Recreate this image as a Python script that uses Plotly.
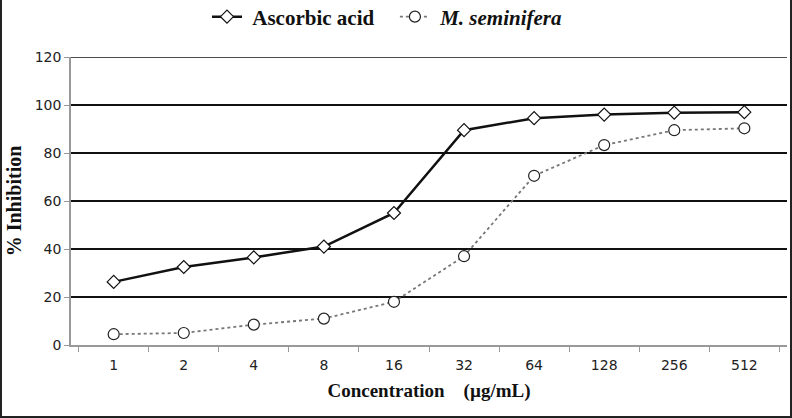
import plotly.graph_objects as go

concentrations = ["1", "2", "4", "8", "16", "32", "64", "128", "256", "512"]
ascorbic_acid = [26.3, 32.5, 36.5, 41, 55, 89.5, 94.5, 96, 96.8, 97]
m_seminifera = [4.5, 5, 8.5, 11, 18, 37, 70.5, 83.3, 89.5, 90.3]

W, H = 792, 418
L, R, T, B = 71, 5, 57, 73
pw, ph = W - L - R, H - T - B

fig = go.Figure()
fig.add_trace(go.Scatter(
    x=concentrations, y=ascorbic_acid, name="&nbsp;<b>Ascorbic acid</b>&nbsp;&nbsp;&nbsp;",
    mode="lines+markers",
    line=dict(color="#111111", width=2.5),
    marker=dict(symbol="diamond", size=10, color="white",
                line=dict(color="#111111", width=1.2)),
))
fig.add_trace(go.Scatter(
    x=concentrations, y=m_seminifera, name="&nbsp;<b><i>M. seminifera</i></b>",
    mode="lines+markers",
    line=dict(color="#777777", width=1.8, dash="dot"),
    marker=dict(symbol="circle", size=11, color="white",
                line=dict(color="#222222", width=1.2)),
))

serif = "Liberation Serif, Times New Roman, serif"
sans = "DejaVu Sans, Verdana, sans-serif"
fig.update_layout(
    width=W, height=H,
    margin=dict(l=L, r=R, t=T, b=B, autoexpand=False),
    plot_bgcolor="white", paper_bgcolor="white",
    showlegend=True,
    legend=dict(orientation="h", x=(207 - L) / pw, xanchor="left", y=1 + 40 / ph, yanchor="middle",
                bgcolor="rgba(0,0,0,0)",
                font=dict(family=serif, size=21, color="#111111")),
    xaxis=dict(
        type="category", automargin=False, showgrid=False, showline=True,
        linecolor="#999999", linewidth=1.5,
        ticks="outside", tickson="boundaries", ticklen=5, tickcolor="#999999",
        ticklabelstandoff=6,
        tickfont=dict(family=sans, size=14, color="#222222"),
        title=dict(text="<b>Concentration&nbsp;&nbsp;&nbsp;&nbsp;(µg/mL)</b>", standoff=12,
                   font=dict(family=serif, size=19, color="#111111")),
    ),
    yaxis=dict(
        range=[0, 120], dtick=20, showgrid=True, gridcolor="#111111", gridwidth=1.5,
        automargin=False, zeroline=False, showline=True, linecolor="#999999", linewidth=1.5,
        ticks="outside", ticklen=5, tickcolor="#999999",
        tickfont=dict(family=sans, size=14, color="#222222"),
        title=dict(text="<b>% Inhibition</b>", standoff=8,
                   font=dict(family=serif, size=20, color="#111111")),
    ),
)
# top gridline at 120
fig.add_shape(type="line", xref="paper", yref="y", x0=0, x1=1, y0=120, y1=120,
              line=dict(color="#111111", width=1.5))
# image frame
fig.add_shape(type="rect", xref="paper", yref="paper",
              x0=-(L - 1) / pw, x1=(W - 1 - L) / pw, y0=-(B - 1) / ph, y1=(H - T - 1) / ph,
              line=dict(color="#222222", width=2))

# drop the default body margin so the figure sits at the window's corner
fig.write_html("out.html", config={"displayModeBar": False},
               post_script="document.body.style.margin='0';")
